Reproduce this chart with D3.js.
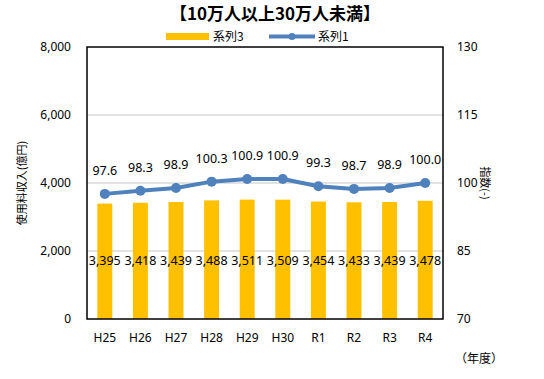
<!DOCTYPE html>
<html><head><meta charset="utf-8">
<script src="https://cdn.jsdelivr.net/npm/d3@7"></script>
<style>body{margin:0;background:#fff}svg{display:block}text{font-family:"Noto Sans CJK JP","Noto Sans",sans-serif}</style>
</head><body><svg id="c" width="544" height="379"></svg>
<script>
const categories = ["H25","H26","H27","H28","H29","H30","R1","R2","R3","R4"];
const revenue = [3395,3418,3439,3488,3511,3509,3454,3433,3439,3478];
const index = [97.6,98.3,98.9,100.3,100.9,100.9,99.3,98.7,98.9,100.0];
const leftTicks = [0,2000,4000,6000,8000];
const rightTicks = [70,85,100,115,130];

const svg = d3.select("#c");
const L=87, R=443, T=47, B=319;
const x = d3.scaleBand().domain(categories).range([L,R]).paddingInner(0.58).paddingOuter(0.29);
const y = d3.scaleLinear().domain([0,8000]).range([B,T]);
const y2 = d3.scaleLinear().domain([70,130]).range([B,T]);
const fmt = d3.format(",");

// gridlines
svg.append("g").selectAll("line").data(leftTicks.slice(1,4)).join("line")
  .attr("x1",L).attr("x2",R).attr("y1",d=>y(d)).attr("y2",d=>y(d))
  .attr("stroke","#d9d9d9").attr("stroke-width",1.3);

// bars
svg.append("g").selectAll("rect").data(revenue).join("rect")
  .attr("x",(d,i)=>x(categories[i])).attr("width",x.bandwidth())
  .attr("y",d=>y(d)).attr("height",d=>B-y(d)).attr("fill","#FFC000");

// frame
svg.append("rect").attr("x",L).attr("y",T).attr("width",R-L).attr("height",B-T)
  .attr("fill","none").attr("stroke","#000").attr("stroke-width",1.5);

// left axis
const la = svg.append("g").attr("transform",`translate(${L},0)`)
  .call(d3.axisLeft(y).tickValues(leftTicks).tickFormat(fmt).tickSize(0).tickPadding(16));
la.select(".domain").remove();
la.selectAll("text").attr("font-size",12).attr("fill","#000").style("font-family","'Noto Sans',sans-serif");

// right axis
const ra = svg.append("g").attr("transform",`translate(${R},0)`)
  .call(d3.axisRight(y2).tickValues(rightTicks).tickSize(0).tickPadding(14));
ra.select(".domain").remove();
ra.selectAll("text").attr("font-size",12).attr("fill","#000").style("font-family","'Noto Sans',sans-serif");

// x axis
const xa = svg.append("g").attr("transform",`translate(0,${B})`)
  .call(d3.axisBottom(x).tickSize(0).tickPadding(14));
xa.select(".domain").remove();
xa.selectAll("text").attr("font-size",12).attr("fill","#000").style("font-family","'Noto Sans',sans-serif");

// bar labels
svg.append("g").selectAll("text").data(revenue).join("text")
  .attr("x",(d,i)=>x(categories[i])+x.bandwidth()/2).attr("y",y(2000)+14)
  .attr("text-anchor","middle").attr("font-size",12.5).style("font-family","'Noto Sans',sans-serif")
  .text(d=>fmt(d));

// line
const cx = (d,i)=>x(categories[i])+x.bandwidth()/2;
svg.append("path").datum(index)
  .attr("d",d3.line().x(cx).y(d=>y2(d)))
  .attr("fill","none").attr("stroke","#4F81BD").attr("stroke-width",4).attr("stroke-linejoin","round");
svg.append("g").selectAll("circle").data(index).join("circle")
  .attr("cx",cx).attr("cy",d=>y2(d)).attr("r",5).attr("fill","#4F81BD");
svg.append("g").selectAll("text").data(index).join("text")
  .attr("x",cx).attr("y",d=>y2(d)-19)
  .attr("text-anchor","middle").attr("font-size",12.5).style("font-family","'Noto Sans',sans-serif")
  .text(d=>d.toFixed(1));

// title
svg.append("text").attr("x",275).attr("y",20).attr("text-anchor","middle")
  .attr("font-size",17).attr("font-weight","bold").text("【10万人以上30万人未満】");

// legend
svg.append("rect").attr("x",166).attr("y",33).attr("width",43).attr("height",7).attr("fill","#FFC000");
svg.append("text").attr("x",213).attr("y",41).attr("font-size",12).text("系列3");
svg.append("line").attr("x1",269).attr("x2",315).attr("y1",36.5).attr("y2",36.5).attr("stroke","#4F81BD").attr("stroke-width",4);
svg.append("circle").attr("cx",292).attr("cy",36.5).attr("r",3.5).attr("fill","#4F81BD");
svg.append("text").attr("x",318).attr("y",41).attr("font-size",12).text("系列1");

// axis titles
svg.append("text").attr("transform","translate(26,183) rotate(-90)").attr("text-anchor","middle")
  .attr("font-size",11).text("使用料収入(億円)");
svg.append("text").attr("transform","translate(481,183) rotate(90)").attr("text-anchor","middle")
  .attr("font-size",11).text("指数(-)");
svg.append("text").attr("x",455).attr("y",363).attr("font-size",12).text("（年度）");
</script></body></html>
